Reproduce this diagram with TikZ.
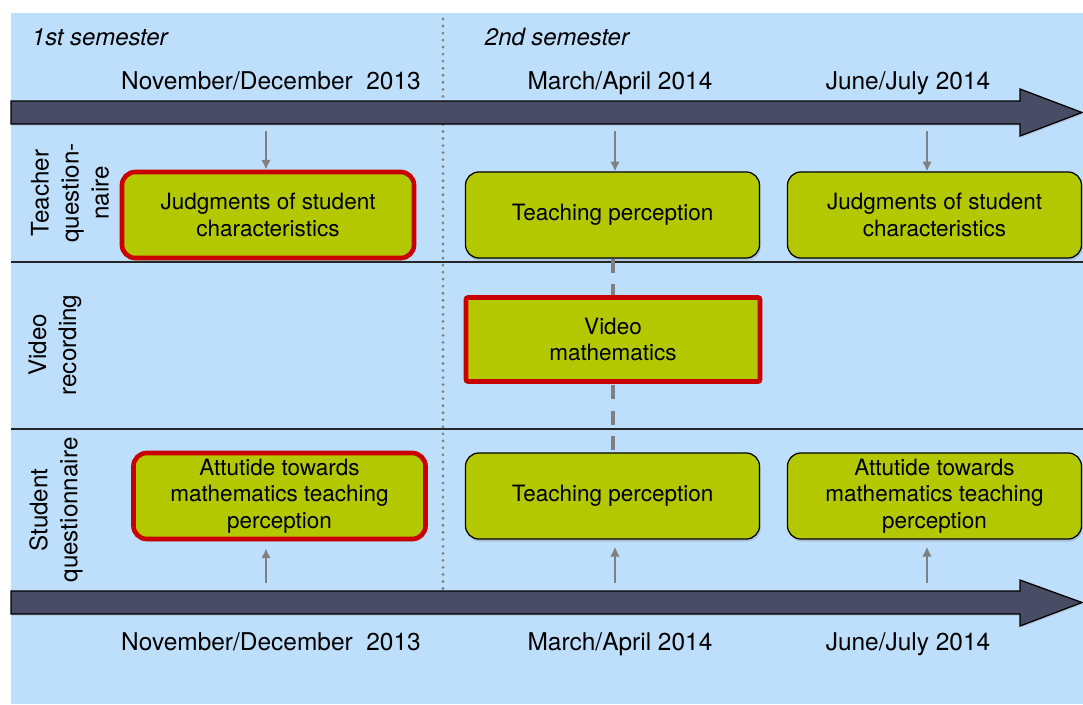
\documentclass[tikz,border=0pt]{standalone}
\usepackage{fontspec}
\setmainfont{TeX Gyre Heros}
\usetikzlibrary{shadows,arrows.meta}
\definecolor{skyback}{RGB}{190,223,251}
\definecolor{timeslate}{RGB}{72,76,101}
\definecolor{boxgreen}{RGB}{180,200,0}
\definecolor{keyred}{RGB}{200,0,0}
\definecolor{pointgray}{RGB}{128,128,128}
\begin{document}
\begin{tikzpicture}[>={Latex[length=7pt,width=7pt]},x=0.025cm,y=-0.025cm,
  timeline/.style={draw=black,line width=0.9pt,fill=timeslate,line join=miter,
    drop shadow={opacity=0.25,shadow xshift=0.6pt,shadow yshift=-1.2pt}},
  stage/.style={draw=black,line width=0.9pt,fill=boxgreen,rounded corners=9.5pt,
    minimum width=7.35cm,minimum height=2.15cm,align=center,
    font=\fontsize{16}{19}\selectfont,
    drop shadow={opacity=0.3,shadow xshift=0.8pt,shadow yshift=-1.8pt}},
  keystage/.style={stage,draw=keyred,line width=3.3pt},
  datelabel/.style={anchor=base,font=\fontsize{17.4}{20}\selectfont},
  semlabel/.style={anchor=base west,font=\fontsize{17}{20}\selectfont\itshape},
  rowlabel/.style={rotate=90,align=center,font=\fontsize{17.2}{21.3}\selectfont},
  pointer/.style={->,draw=pointgray,fill=pointgray,line width=1.6pt}]
\useasboundingbox (0,0) rectangle (1083,704);
\fill[skyback] (11,13) rectangle (1083,704);

\draw[line width=1pt,black!85] (11,262)--(1083,262);
\draw[line width=1pt,black!85] (11,429)--(1083,429);
\draw[pointgray,line width=2.2pt,line cap=round,dash pattern=on 0pt off 5pt] (443,19)--(443,591);

\draw[timeline] (11,101)--(1020,101)--(1020,89)--(1082,112.5)--(1020,136)--(1020,124)--(11,124)--cycle;
\draw[timeline] (11,591)--(1020,591)--(1020,580)--(1082,602.5)--(1020,626)--(1020,614)--(11,614)--cycle;

\node[semlabel] (sem1) at (27,45) {1st semester};
\node[semlabel] (sem2) at (480,45) {2nd semester};

\node[datelabel] (nd-t) at (271,89) {November/December~ 2013};
\node[datelabel] (ma-t) at (620,89) {March/April 2014};
\node[datelabel] (jj-t) at (908,89) {June/July 2014};
\node[datelabel] (nd-b) at (271,650) {November/December~ 2013};
\node[datelabel] (ma-b) at (620,650) {March/April 2014};
\node[datelabel] (jj-b) at (908,650) {June/July 2014};

\node[rowlabel] (teacher) at (70,193) {Teacher\\question-\\naire};
\node[rowlabel] (video) at (55,345) {Video\\recording};
\node[rowlabel] (student) at (56,510) {Student\\questionnaire};

\node[keystage,minimum width=7.3cm] (jud1) at (268,215) {Judgments of student\\characteristics};
\node[stage] (tp1) at (612.5,215) {Teaching perception};
\node[stage] (jud2) at (934.5,215) {Judgments of student\\characteristics};
\node[keystage,minimum width=7.3cm] (att1) at (279.5,496) {Attutide towards\\mathematics teaching\\perception};
\node[stage] (tp2) at (612.5,496) {Teaching perception};
\node[stage] (att2) at (934.5,496) {Attutide towards\\mathematics teaching\\perception};

\draw[pointgray,line width=2.6pt,dash pattern=on 10pt off 8pt] (tp1.south-|613,0)--(tp2.north-|613,0);
\node[keystage,rounded corners=1.5pt,minimum width=7.35cm,minimum height=2.1cm] (vid) at (613,339.5) {Video\\mathematics};

\coordinate (nd-tt) at (266,131);
\coordinate (ma-tt) at (615,131);
\coordinate (jj-tt) at (927,131);
\coordinate (nd-bb) at (266,583);
\coordinate (ma-bb) at (615,583);
\coordinate (jj-bb) at (927,583);
\draw[pointer] (nd-tt)--(nd-tt|-jud1.north);
\draw[pointer] (ma-tt)--(ma-tt|-tp1.north);
\draw[pointer] (jj-tt)--(jj-tt|-jud2.north);
\draw[pointer,shorten >=5pt] (nd-bb)--(nd-bb|-att1.south);
\draw[pointer,shorten >=5pt] (ma-bb)--(ma-bb|-tp2.south);
\draw[pointer,shorten >=5pt] (jj-bb)--(jj-bb|-att2.south);

\end{tikzpicture}
\end{document}
